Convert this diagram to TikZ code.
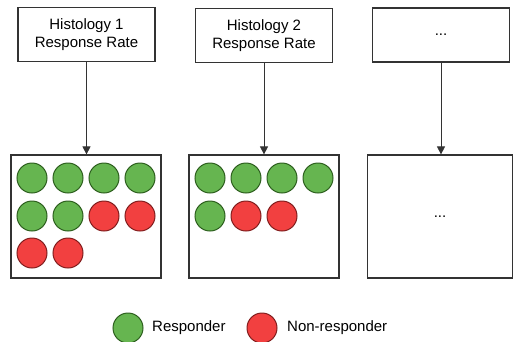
\documentclass[tikz,border=0pt]{standalone}
\usepackage{fontspec}
\setmainfont{Liberation Sans}
\usetikzlibrary{arrows.meta}
\definecolor{gfill}{RGB}{102,181,80}
\definecolor{gdraw}{RGB}{45,95,30}
\definecolor{rfill}{RGB}{242,64,64}
\definecolor{rdraw}{RGB}{130,30,30}
\tikzset{
  labelbox/.style={draw=black!80, line width=1.2pt, minimum width=137pt, minimum height=54pt, align=center, inner sep=0pt, font=\fontsize{15}{18}\selectfont},
  groupbox/.style={draw=black!80, line width=1.2pt, minimum width=150pt, minimum height=123pt, inner sep=0pt, font=\fontsize{15}{18}\selectfont},
  resp/.style={circle, draw=gdraw, line width=1pt, fill=gfill, minimum size=30pt, inner sep=0pt},
  nonresp/.style={circle, draw=rdraw, line width=1pt, fill=rfill, minimum size=30pt, inner sep=0pt},
  link/.style={-{Triangle[length=8pt,width=8pt]}, line width=0.8pt, black!80},
  legtext/.style={font=\fontsize{15}{18}\selectfont, anchor=west, inner sep=0pt}
}
\begin{document}
\begin{tikzpicture}[x=1pt,y=-1pt]
\useasboundingbox (0,0) rectangle (514,341);
% top label boxes
\node[labelbox] (t1) at (86.5,34.5) {Histology 1\\Response Rate};
\node[labelbox] (t2) at (264,35.5) {Histology 2\\Response Rate};
\node[labelbox] (t3) at (441,35) {...};
% bottom group boxes
\node[groupbox] (b1) at (86,216.5) {};
\node[groupbox] (b2) at (264,216.5) {};
\node[groupbox, minimum width=145pt] (b3) at (440,216.5) {...};
% arrows
\draw[link] (t1.south) -- (t1.south |- b1.north);
\draw[link] (t2.south) -- (t2.south |- b2.north);
\draw[link] (t3.south) -- (t3.south |- b3.north);
% box 1 circles
\node[resp] (c11) at (32,178) {};
\node[resp] (c12) at (68,178) {};
\node[resp] (c13) at (104,178) {};
\node[resp] (c14) at (140,178) {};
\node[resp] (c15) at (32,216) {};
\node[resp] (c16) at (68,216) {};
\node[nonresp] (c17) at (104,216) {};
\node[nonresp] (c18) at (140,216) {};
\node[nonresp] (c19) at (32,253) {};
\node[nonresp] (c110) at (68,253) {};
% box 2 circles
\node[resp] (c21) at (210,178) {};
\node[resp] (c22) at (246,178) {};
\node[resp] (c23) at (282,178) {};
\node[resp] (c24) at (318,178) {};
\node[resp] (c25) at (210,216) {};
\node[nonresp] (c26) at (246,216) {};
\node[nonresp] (c27) at (282,216) {};
% legend
\node[resp] (lg) at (128,328) {};
\node[legtext] (lgt) at (152,328) {Responder};
\node[nonresp] (lr) at (262,328) {};
\node[legtext] (lrt) at (287,328) {Non-responder};
\end{tikzpicture}
\end{document}
